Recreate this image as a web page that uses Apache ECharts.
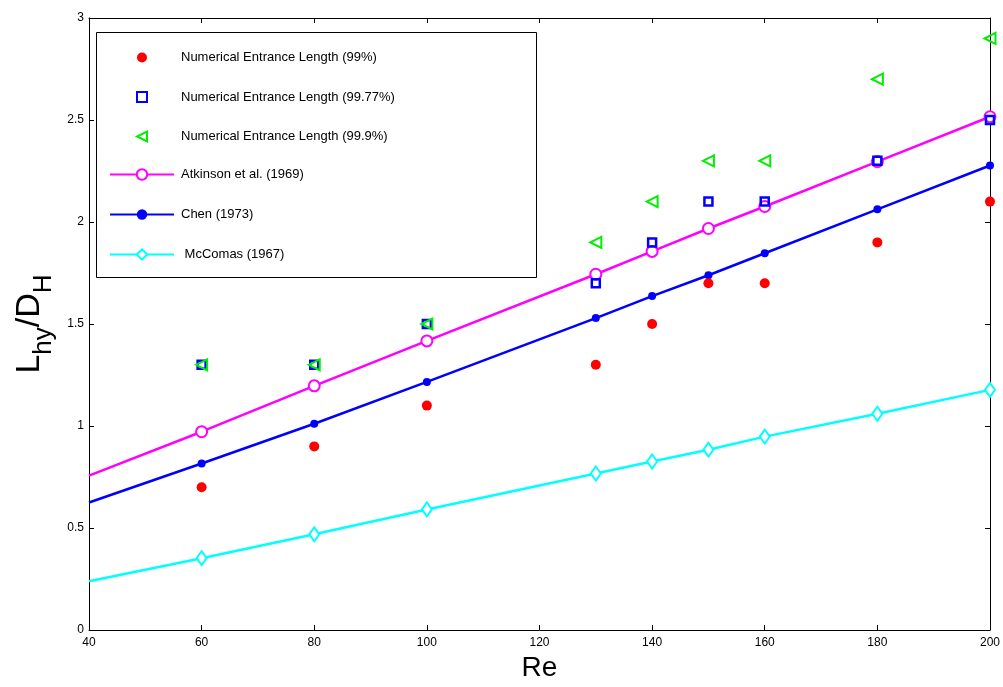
<!DOCTYPE html>
<html><head><meta charset="utf-8">
<script src="https://cdn.jsdelivr.net/npm/echarts@6/dist/echarts.min.js"></script>
<style>html,body{margin:0;padding:0;background:#fff}#c{width:1003px;height:687px}</style>
</head><body><div id="c"></div>
<script>
const reNum = [60, 80, 100, 130, 140, 150, 160, 180, 200];
const num99 = [0.7, 0.9, 1.1, 1.3, 1.5, 1.7, 1.7, 1.9, 2.1];
const num9977 = [1.3, 1.3, 1.5, 1.7, 1.9, 2.1, 2.1, 2.3, 2.5];
const num999 = [1.3, 1.3, 1.5, 1.9, 2.1, 2.3, 2.3, 2.7, 2.9];
const reLine = [40, 60, 80, 100, 130, 140, 150, 160, 180, 200];
const atkinson = [0.757, 0.972, 1.197, 1.417, 1.744, 1.856, 1.968, 2.076, 2.296, 2.516];
const chen = [0.625, 0.816, 1.011, 1.216, 1.529, 1.637, 1.739, 1.847, 2.062, 2.277];
const mccomas = [0.239, 0.352, 0.469, 0.591, 0.767, 0.826, 0.884, 0.948, 1.06, 1.177];
const xTicks = {min: 40, max: 200, interval: 20};
const yTicks = {min: 0, max: 3, interval: 0.5};
const names = ['Numerical Entrance Length (99%)', 'Numerical Entrance Length (99.77%)', 'Numerical Entrance Length (99.9%)', 'Atkinson et al. (1969)', 'Chen (1973)', ' McComas (1967)'];

const FONT = 'Liberation Sans, Arial, sans-serif';
const pts = (xs, ys) => xs.map((x, i) => [x, ys[i]]);
const linePts = (xs, ys) => xs.map((x, i) => i === 0 ? {value: [x, ys[i]], symbol: 'none'} : [x, ys[i]]);

const chart = echarts.init(document.getElementById('c'), null, {renderer: 'canvas'});
const axisCommon = {
  axisLine: {show: true, onZero: false, lineStyle: {color: '#000', width: 1}},
  axisTick: {show: true, inside: true, length: 5, lineStyle: {color: '#000'}},
  splitLine: {show: false}
};
chart.setOption({
  animation: false,
  backgroundColor: '#fff',
  grid: {left: 89, right: 13, top: 18, bottom: 55, containLabel: false},
  xAxis: [
    Object.assign({type: 'value', min: xTicks.min, max: xTicks.max, interval: xTicks.interval, position: 'bottom',
      name: 'Re', nameLocation: 'middle', nameGap: 24,
      nameTextStyle: {fontSize: 28, fontFamily: FONT, color: '#000'},
      axisLabel: {fontSize: 12, fontFamily: FONT, color: '#000', margin: 7}}, axisCommon),
    Object.assign({type: 'value', min: xTicks.min, max: xTicks.max, interval: xTicks.interval, position: 'top',
      axisLabel: {show: false}}, axisCommon)
  ],
  yAxis: [
    Object.assign({type: 'value', min: yTicks.min, max: yTicks.max, interval: yTicks.interval, position: 'left',
      name: '{a|L}{b|hy}{a|/D}{b|H}', nameLocation: 'middle', nameGap: 31, nameRotate: 90,
      nameTextStyle: {color: '#000', rich: {
        a: {fontSize: 34, fontFamily: FONT, color: '#000', padding: [0, 0, 10, 0], verticalAlign: 'bottom'},
        b: {fontSize: 26, fontFamily: FONT, color: '#000', verticalAlign: 'bottom'}
      }},
      axisLabel: {fontSize: 12, fontFamily: FONT, color: '#000', margin: 5}}, axisCommon),
    Object.assign({type: 'value', min: yTicks.min, max: yTicks.max, interval: yTicks.interval, position: 'right',
      axisLabel: {show: false}}, axisCommon)
  ],
  graphic: [{type: 'rect', left: 96, top: 32, shape: {width: 440, height: 245}, z: 5,
    style: {fill: '#fff', stroke: '#000', lineWidth: 1}}],
  legend: [
    {data: [
        {name: names[0]},
        {name: names[1]},
        {name: names[2], icon: 'path://M10,0 L10,10 L0,5 Z'}
      ], orient: 'vertical', left: 131, top: 46, itemWidth: 10, itemHeight: 10, itemGap: 26.5, z: 10,
      textStyle: {fontSize: 13, fontFamily: FONT, color: '#000', padding: [0, 0, 0, 29]}, selectedMode: false},
    {data: names.slice(3), orient: 'vertical', left: 104, top: 163, itemWidth: 64, itemHeight: 13, itemGap: 27, z: 10,
      textStyle: {fontSize: 13, fontFamily: FONT, color: '#000', padding: [0, 0, 0, 2]}, selectedMode: false}
  ],
  series: [
    {name: names[3], type: 'line', data: linePts(reLine, atkinson), color: '#ff00ff',
      lineStyle: {width: 2.5, color: '#ff00ff'}, symbol: 'emptyCircle', symbolSize: 11,
      itemStyle: {color: '#ff00ff', borderWidth: 2}, z: 3},
    {name: names[4], type: 'line', data: linePts(reLine, chen), color: '#0000ff',
      lineStyle: {width: 2.5, color: '#0000ff'}, symbol: 'circle', symbolSize: 8,
      itemStyle: {color: '#0000ff'}, z: 3},
    {name: names[5], type: 'line', data: linePts(reLine, mccomas), color: '#00ffff',
      lineStyle: {width: 2.5, color: '#00ffff'}, symbol: 'emptyDiamond', symbolSize: [10, 14],
      itemStyle: {color: '#00ffff', borderWidth: 2}, z: 3},
    {name: names[0], type: 'scatter', data: pts(reNum, num99), symbol: 'circle', symbolSize: 10,
      itemStyle: {color: '#ff0000', opacity: 1}, z: 4},
    {name: names[1], type: 'scatter', data: pts(reNum, num9977), symbol: 'rect', symbolSize: 8,
      itemStyle: {color: 'rgba(0,0,0,0)', borderColor: '#0000ff', borderWidth: 2.5, opacity: 1}, z: 4},
    {name: names[2], type: 'scatter', data: pts(reNum, num999), symbol: 'triangle', symbolRotate: 90, symbolSize: 11,
      itemStyle: {color: 'rgba(0,0,0,0)', borderColor: '#00ee00', borderWidth: 2, opacity: 1}, z: 4}
  ]
});
</script></body></html>
